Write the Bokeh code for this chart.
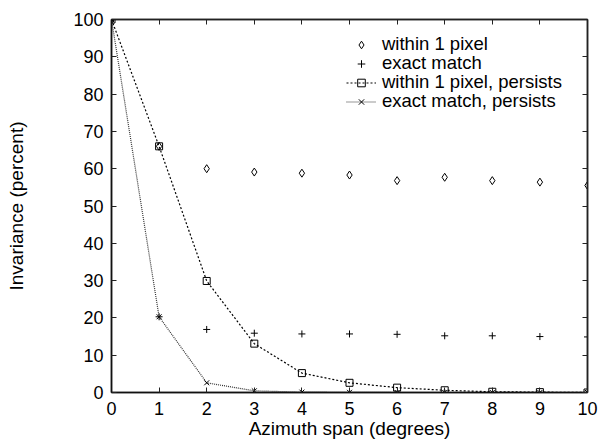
from bokeh.plotting import figure
from bokeh.models import Range1d, LinearAxis, SingleIntervalTicker, Legend, LegendItem
from bokeh.embed import file_html
from bokeh.resources import INLINE

azimuth = [0, 1, 2, 3, 4, 5, 6, 7, 8, 9, 10]
within_1_pixel = [100, 66, 60.0, 59.1, 58.8, 58.3, 56.8, 57.7, 56.8, 56.4, 55.5]
exact_match = [100, 20.3, 16.9, 15.9, 15.7, 15.7, 15.6, 15.2, 15.2, 15.0, 14.9]
within_1_pixel_persists = [100, 66, 29.9, 13.1, 5.2, 2.6, 1.3, 0.6, 0.2, 0.1, 0.0]
exact_match_persists = [100, 20.3, 2.6, 0.45, 0.1, 0.05, 0.0, 0.0, 0.0, 0.0, 0.0]
series_labels = ["within 1 pixel", "exact match", "within 1 pixel, persists", "exact match, persists"]

FONT = "Liberation Sans"
FS = "18px"

p = figure(width=598, height=441, output_backend="svg", toolbar_location=None,
           x_range=Range1d(0, 10), y_range=Range1d(0, 100),
           min_border_left=111, min_border_right=11, min_border_top=19, min_border_bottom=47)
p.background_fill_color = "white"
p.border_fill_color = "white"
p.grid.visible = False
p.outline_line_color = "#222222"
p.outline_line_width = 1.5

p.xaxis.ticker = SingleIntervalTicker(interval=1)
p.yaxis.ticker = SingleIntervalTicker(interval=10)
for ax in (p.xaxis[0], p.yaxis[0]):
    ax.axis_line_color = "#111111"
    ax.axis_line_width = 1.5
    ax.major_tick_in = 5
    ax.major_tick_out = 0
    ax.minor_tick_in = 0
    ax.minor_tick_out = 0
    ax.major_tick_line_color = "#222222"
    ax.major_label_text_font = FONT
    ax.major_label_text_font_size = FS
    ax.major_label_text_color = "black"
    ax.axis_label_text_font = FONT
    ax.axis_label_text_font_size = "19px"
    ax.axis_label_text_font_style = "normal"
    ax.axis_label_text_color = "black"

p.xaxis.axis_label = "Azimuth span (degrees)"
p.xaxis.major_label_standoff = 9
p.xaxis.axis_label_standoff = 0
p.yaxis.axis_label = "Invariance (percent)"
p.yaxis.major_label_standoff = 8
p.yaxis.axis_label_standoff = 43

top = LinearAxis(ticker=SingleIntervalTicker(interval=1))
right = LinearAxis(ticker=SingleIntervalTicker(interval=10))
for ax in (top, right):
    ax.major_label_text_font_size = "1px"
    ax.major_label_text_color = None
    ax.major_label_standoff = 0
    ax.major_tick_in = 5
    ax.major_tick_out = 0
    ax.minor_tick_in = 0
    ax.minor_tick_out = 0
    ax.axis_line_color = "#222222"
    ax.axis_line_width = 1.5
    ax.major_tick_line_color = "#222222"
p.add_layout(top, "above")
p.add_layout(right, "right")

r1 = p.scatter(azimuth, within_1_pixel, marker="diamond", size=8, line_color="black",
               fill_alpha=0, line_width=1)
r2 = p.scatter(azimuth, exact_match, marker="cross", size=7, line_color="black", line_width=1)
l3 = p.line(azimuth, within_1_pixel_persists, line_color="black", line_width=1.2, line_dash="2 2")
r3 = p.scatter(azimuth, within_1_pixel_persists, marker="square", size=7, line_color="black",
               fill_alpha=0, line_width=1)
l4 = p.line(azimuth, exact_match_persists, line_color="#333333", line_width=1.2, line_dash="1 1")
r4 = p.scatter(azimuth, exact_match_persists, marker="x", size=7, line_color="black", line_width=1)

# one single-row legend per series so the rows sit 19px apart as in the reference
row_renderers = [[r1], [r2], [l3, r3], [l4, r4]]
row_offsets = [337, 318, 299, 280]
for label, rends, yoff in zip(series_labels, row_renderers, row_offsets):
    lg = Legend(items=[LegendItem(label=label, renderers=rends)], location=(235, yoff))
    lg.background_fill_alpha = 0
    lg.border_line_alpha = 0
    lg.padding = 0
    lg.spacing = 0
    lg.margin = 0
    lg.glyph_width = 30
    lg.glyph_height = 19
    lg.label_height = 19
    lg.label_standoff = 6
    lg.label_text_font = FONT
    lg.label_text_font_size = "18.5px"
    lg.label_text_color = "black"
    p.add_layout(lg, "center")

open("out.html", "w").write(file_html(p, INLINE))
